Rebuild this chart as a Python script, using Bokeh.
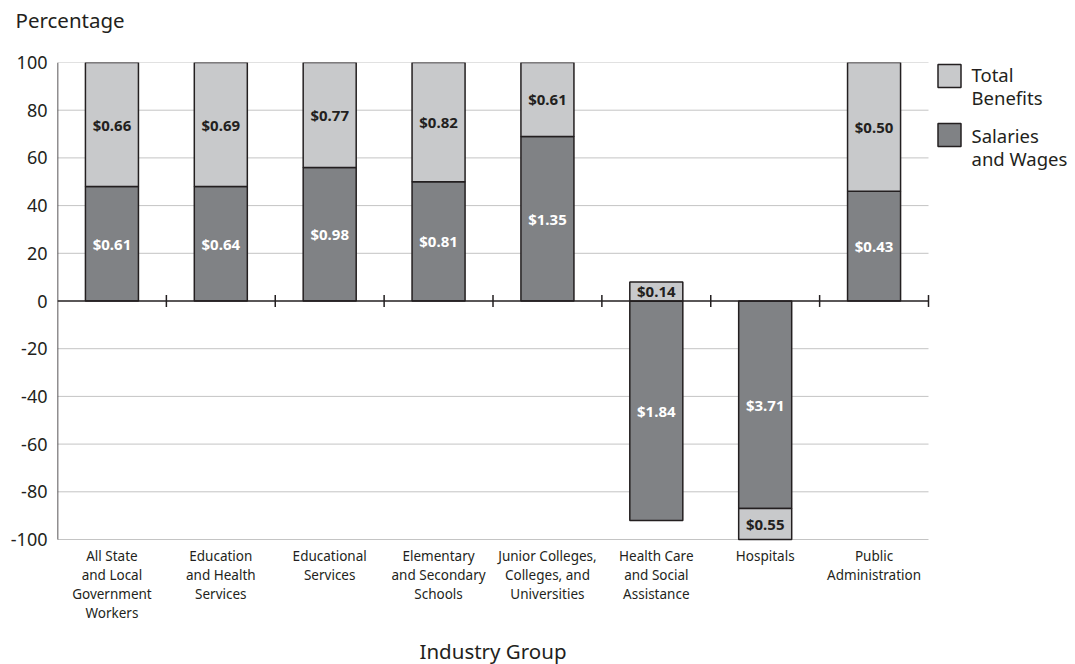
from bokeh.plotting import figure
from bokeh.models import ColumnDataSource, Range1d, FixedTicker, Title
from bokeh.core.properties import value
from bokeh.embed import file_html
from bokeh.resources import INLINE

# Share of compensation cost by industry group (percent of total change)
categories = [
    "All State\nand Local\nGovernment\nWorkers",
    "Education\nand Health\nServices",
    "Educational\nServices",
    "Elementary\nand Secondary\nSchools",
    "Junior Colleges,\nColleges, and\nUniversities",
    "Health Care\nand Social\nAssistance",
    "Hospitals",
    "Public\nAdministration",
]
salary_pct = [48, 48, 56, 50, 69, -92, -87, 46]
benefit_pct = [52, 52, 44, 50, 31, 8, -13, 54]
salary_usd = [0.61, 0.64, 0.98, 0.81, 1.35, 1.84, 3.71, 0.43]
benefit_usd = [0.66, 0.69, 0.77, 0.82, 0.61, 0.14, 0.55, 0.50]
y_ticks = [-100, -80, -60, -40, -20, 0, 20, 40, 60, 80, 100]

FONT = "Noto Sans"
INK = "#231f20"
DARK = "#808285"
LIGHT = "#c8c9cb"
GRID = "#c4c4c4"

n = len(categories)
xs = [i + 0.5 for i in range(n)]

# benefits stack on top of salaries when both share a sign, otherwise start at zero
ben_bottom = [s if (s >= 0) == (b >= 0) else 0 for s, b in zip(salary_pct, benefit_pct)]
ben_top = [bb + b for bb, b in zip(ben_bottom, benefit_pct)]

sal_src = ColumnDataSource(dict(
    x=xs, top=salary_pct, bottom=[0] * n,
    ymid=[s / 2 for s in salary_pct],
    label=["$%.2f" % v for v in salary_usd],
))
ben_src = ColumnDataSource(dict(
    x=xs, top=ben_top, bottom=ben_bottom,
    ymid=[(a + b) / 2 for a, b in zip(ben_bottom, ben_top)],
    label=["$%.2f" % v for v in benefit_usd],
))

# pixel geometry: value area spans x 57..928 and y 62..539 on a 1075x664 page
W, H = 1075, 664
LEFT, RIGHT_CAT, TOP, BOTTOM = 57, 928, 62, 539
cat_w = (RIGHT_CAT - LEFT) / n
y_px = (BOTTOM - TOP) / 200.0
zero_px = (BOTTOM + TOP) / 2.0


def px_x(px):
    return (px - LEFT) / cat_w


def px_y(py):
    return (zero_px - py) / y_px


p = figure(
    width=W, height=H,
    x_range=Range1d(0, px_x(W)), y_range=Range1d(px_y(H), 100),
    output_backend="svg", toolbar_location=None, x_axis_location=None,
    min_border_left=LEFT, min_border_right=0,
    min_border_top=TOP, min_border_bottom=0,
)
p.outline_line_color = None
p.grid.visible = False
p.background_fill_color = "white"
p.border_fill_color = "white"

# "Percentage" heading sits above a spacer title
p.title.text = ""
p.add_layout(Title(text=" ", text_font_size="1px", standoff=26), "above")
p.add_layout(Title(text="Percentage", align="left", offset=15 - LEFT, standoff=0,
                   text_font=FONT, text_font_size="20.5px", text_font_style="normal",
                   text_color=INK), "above")

# horizontal gridlines across the category area
grid_y = [t for t in y_ticks if t != 0]
p.segment(x0=[0] * len(grid_y), x1=[n] * len(grid_y), y0=grid_y, y1=grid_y,
          line_color=GRID, line_width=1)

# bars
bar_w = 0.487
p.vbar(x="x", width=bar_w, top="top", bottom="bottom", source=sal_src,
       fill_color=DARK, line_color=INK, line_width=1.5)
p.vbar(x="x", width=bar_w, top="top", bottom="bottom", source=ben_src,
       fill_color=LIGHT, line_color=INK, line_width=1.5)

# left axis line and zero baseline with category separators
p.segment(x0=[0], x1=[0], y0=[y_ticks[0]], y1=[y_ticks[-1]], line_color=INK, line_width=1.5)
p.segment(x0=[0], x1=[n], y0=[0], y1=[0], line_color=INK, line_width=1.5)
sep = list(range(1, n + 1))
p.segment(x0=sep, x1=sep, y0=[-2.5] * n, y1=[2.5] * n, line_color=INK, line_width=1.5)

# value labels
p.text(x="x", y="ymid", text="label", source=sal_src,
       text_font=value(FONT), text_font_size="15px", text_font_style="bold",
       text_color="white", text_align="center", text_baseline="middle")
p.text(x="x", y="ymid", text="label", source=ben_src,
       text_font=value(FONT), text_font_size="15px", text_font_style="bold",
       text_color=INK, text_align="center", text_baseline="middle")

# category labels under the value area
p.text(x=xs, y=[px_y(546)] * n, text=categories,
       text_font=value(FONT), text_font_size="13.5px", text_color=INK,
       text_align="center", text_baseline="top", text_line_height=1.06)
p.text(x=[n / 2], y=[px_y(650)], text=["Industry Group"],
       text_font=value(FONT), text_font_size="20.5px", text_color=INK,
       text_align="center", text_baseline="middle")

# legend
lx = px_x(949)
tx = px_x(971)
p.rect(x=[lx, lx], y=[px_y(75.5), px_y(134.5)],
       width=23, height=23, width_units="screen", height_units="screen",
       fill_color=[LIGHT, DARK], line_color=INK, line_width=1.5)
p.text(x=[tx, tx], y=[px_y(61.5), px_y(122.5)],
       text=["Total\nBenefits", "Salaries\nand Wages"],
       text_font=value(FONT), text_font_size="18.5px", text_color=INK,
       text_align="left", text_baseline="top", text_line_height=0.91)

# y axis labels
yax = p.yaxis[0]
yax.ticker = FixedTicker(ticks=y_ticks)
yax.major_label_overrides = {t: str(t) for t in y_ticks}
yax.axis_line_color = None
yax.major_tick_out = 0
yax.major_tick_in = 0
yax.minor_tick_out = 0
yax.minor_tick_in = 0
yax.major_label_standoff = 10
yax.major_label_text_font = FONT
yax.major_label_text_font_size = "18px"
yax.major_label_text_color = INK

open("out.html", "w").write(file_html(p, INLINE))
